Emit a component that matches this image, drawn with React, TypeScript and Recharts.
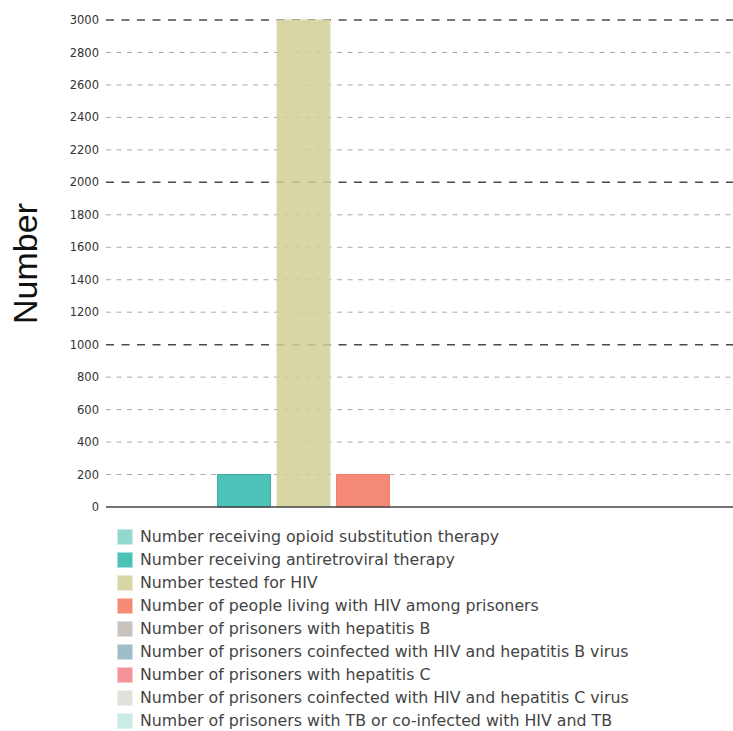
import React from 'react';
import { BarChart, Bar, XAxis, YAxis, CartesianGrid } from 'recharts';

const categories: string[] = [''];
const seriesKeys = ['ost', 'art', 'tested', 'plhiv', 'hepB', 'hivHepB', 'hepC', 'hivHepC', 'tb'];
const seriesNames = [
  'Number receiving opioid substitution therapy',
  'Number receiving antiretroviral therapy',
  'Number tested for HIV',
  'Number of people living with HIV among prisoners',
  'Number of prisoners with hepatitis B',
  'Number of prisoners coinfected with HIV and hepatitis B virus',
  'Number of prisoners with hepatitis C',
  'Number of prisoners coinfected with HIV and hepatitis C virus',
  'Number of prisoners with TB or co-infected with HIV and TB',
];
const seriesValues: (number | null)[] = [null, 200, 3000, 200, null, null, null, null, null];
const barFills = ['#7fd0c6', '#2eb7ac', '#d1cf94', '#f2755f', '#bdb4ae', '#88aebd', '#f27f88', '#d8d7cf', '#b8e6e0'];
const barStrokes = ['#7fd0c6', '#3aaea3', '#dedcb0', '#f07e6b', '#bdb4ae', '#88aebd', '#f27f88', '#d8d7cf', '#b8e6e0'];
const legendColors = ['#93d8cf', '#4cc1b6', '#d9d6a5', '#f58a75', '#c9c1bc', '#9ebdc9', '#f4939a', '#e1e0da', '#c9ece7'];
const yTicks = [0, 200, 400, 600, 800, 1000, 1200, 1400, 1600, 1800, 2000, 2200, 2400, 2600, 2800, 3000];
const majorTicks = [1000, 2000, 3000];
const minorTicks = yTicks.filter((v) => v !== 0 && !majorTicks.includes(v));

const data = categories.map((c) => {
  const row: Record<string, any> = { category: c };
  seriesKeys.forEach((k, i) => {
    row[k] = seriesValues[i];
  });
  return row;
});

const makeGen = (values: number[]) => (props: any) => {
  const yAxis = props?.yAxis;
  if (yAxis && typeof yAxis.scale === 'function') {
    return values.map((v) => yAxis.scale(v));
  }
  const off = props?.offset || { top: 20, height: 487 };
  return values.map((v) => off.top + off.height * (1 - v / 3000));
};

const YLabel = (props: any) => {
  const vb = props.viewBox || { x: 0, y: 20, width: 106, height: 487 };
  const cx = 37;
  const cy = vb.y + vb.height / 2;
  return (
    <text
      x={cx}
      y={cy}
      transform={`rotate(-90, ${cx}, ${cy})`}
      textAnchor="middle"
      fill="#111"
      style={{ fontFamily: '"Liberation Sans", Arial, sans-serif', fontSize: 34 }}
    >
      Number
    </text>
  );
};

export default function App() {
  return (
    <div style={{ position: 'absolute', left: 0, top: 0, width: 733, height: 731, background: '#fff', overflow: 'hidden' }}>
      <BarChart
        width={733}
        height={731}
        data={data}
        margin={{ top: 20, right: 0, left: 0, bottom: 223 }}
        barSize={53}
        barGap={6.5}
        style={{ fontFamily: '"DejaVu Sans", sans-serif' }}
      >
        <CartesianGrid
          vertical={false}
          stroke="#a8a8a8"
          strokeDasharray="5 5.5"
          horizontalCoordinatesGenerator={makeGen(minorTicks)}
        />
        <CartesianGrid
          vertical={false}
          stroke="#4a4a4a"
          strokeWidth={1.5}
          strokeDasharray="8 7.5"
          horizontalCoordinatesGenerator={makeGen(majorTicks)}
        />
        <XAxis
          dataKey="category"
          height={1}
          tick={false}
          tickLine={false}
          axisLine={{ stroke: '#444', strokeWidth: 1.3 }}
          padding={{ left: 6, right: 0 }}
        />
        <YAxis
          width={106}
          domain={[0, 3000]}
          ticks={yTicks}
          interval={0}
          axisLine={false}
          tickLine={false}
          tickSize={6}
          tickMargin={1}
          tick={{ fill: '#333', fontSize: 11.5, fontFamily: '"DejaVu Sans", sans-serif' }}
          label={<YLabel />}
        />
        {seriesKeys.map((k, i) => (
          <Bar
            key={k}
            dataKey={k}
            name={seriesNames[i]}
            fill={barFills[i]}
            fillOpacity={0.85}
            stroke={barStrokes[i]}
            strokeWidth={1}
            isAnimationActive={false}
          />
        ))}
      </BarChart>
      <div
        style={{
          position: 'absolute',
          left: 117,
          top: 525,
          fontFamily: '"DejaVu Sans", sans-serif',
          fontSize: 15.8,
          color: '#444',
        }}
      >
        {seriesNames.map((n, i) => (
          <div key={n} style={{ height: 23, lineHeight: '23px', display: 'flex', alignItems: 'center', whiteSpace: 'nowrap' }}>
            <span
              style={{
                display: 'inline-block',
                width: 14,
                height: 14,
                background: legendColors[i],
                border: '1px solid rgba(255,255,255,0.5)',
                marginRight: 7,
                flex: 'none',
              }}
            />
            <span>{n}</span>
          </div>
        ))}
      </div>
    </div>
  );
}
